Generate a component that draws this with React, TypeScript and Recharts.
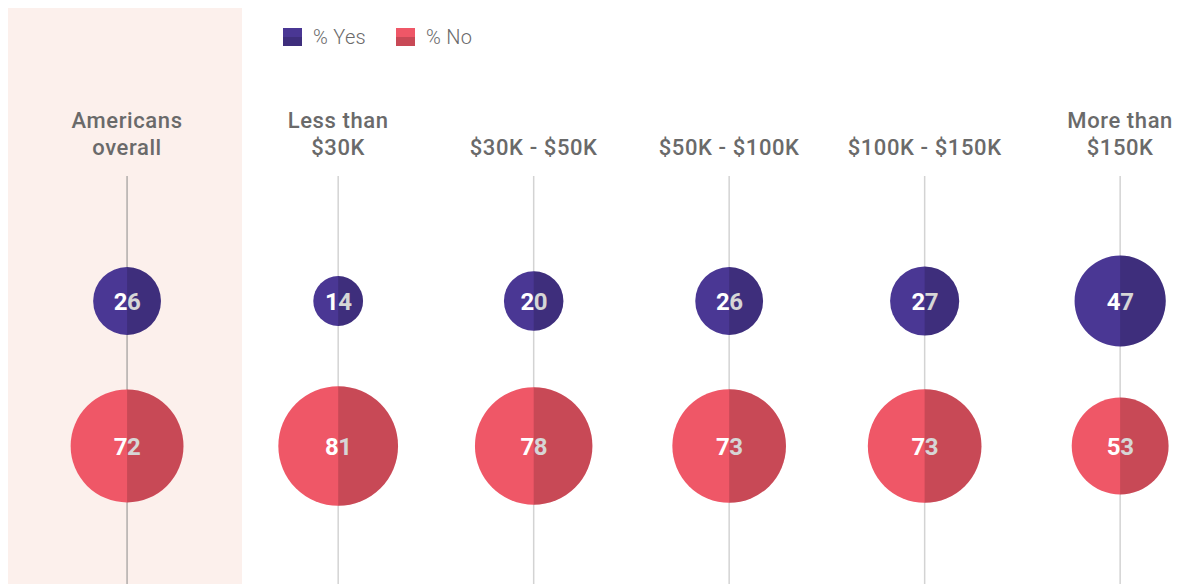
import { ScatterChart, Scatter, XAxis, YAxis, ZAxis, ReferenceArea, ReferenceLine } from 'recharts';

const categories = ['Americans overall', 'Less than $30K', '$30K - $50K', '$50K - $100K', '$100K - $150K', 'More than $150K'];
const categoryLines = [['Americans', 'overall'], ['Less than', '$30K'], ['$30K - $50K'], ['$50K - $100K'], ['$100K - $150K'], ['More than', '$150K']];
const yesValues = [26, 14, 20, 26, 27, 47];
const noValues = [72, 81, 78, 73, 73, 53];
const seriesNames = ['% Yes', '% No'];

const YES_COLOR = '#4a3794';
const NO_COLOR = '#ef5767';
const TEXT_GRAY = '#6a6a6a';

// first column stands apart a little from the income groups
const xPos = categories.map((_, i) => i + (i > 0 ? 0.08 : 0));
const X_DOMAIN: [number, number] = [-0.609, 5.422];
const Y_DOMAIN: [number, number] = [-0.952, 3.021];
const ROW_YES = 1;
const ROW_NO = 0;
const ROW_LABEL = 2.01;

const yesData = categories.map((c, i) => ({ name: c, x: xPos[i], y: ROW_YES, z: yesValues[i] }));
const noData = categories.map((c, i) => ({ name: c, x: xPos[i], y: ROW_NO, z: noValues[i] }));
const labelData = categories.map((c, i) => ({ name: c, x: xPos[i], y: ROW_LABEL, lines: categoryLines[i] }));

const Bubble = (props: any) => {
  const { cx, cy, width, fill, payload } = props;
  const r = width / 2;
  return (
    <g>
      <circle cx={cx} cy={cy} r={r} fill={fill} />
      <text
        x={cx}
        y={cy}
        dy="0.36em"
        textAnchor="middle"
        fill="#fff"
        style={{ fontFamily: 'Roboto', fontWeight: 700, fontSize: 24, letterSpacing: -0.5 }}
      >
        {payload.z}
      </text>
      {/* darker right half, laid over the number too */}
      <path d={`M${cx},${cy - r} A${r},${r} 0 0 1 ${cx},${cy + r} Z`} fill="#000" fillOpacity={0.16} />
    </g>
  );
};

const CategoryLabel = (props: any) => {
  const { cx, cy, payload } = props;
  const lines: string[] = payload.lines;
  return (
    <text
      x={cx}
      y={cy}
      textAnchor="middle"
      fill={TEXT_GRAY}
      style={{ fontFamily: 'Roboto', fontWeight: 500, fontSize: 22, letterSpacing: 0.6 }}
    >
      {lines.map((l, i) => (
        <tspan key={i} x={cx} y={cy - (lines.length - 1 - i) * 27}>
          {l}
        </tspan>
      ))}
    </text>
  );
};

const LegendBox = () => (
  <div
    style={{
      position: 'absolute',
      top: 17,
      left: 275,
      display: 'flex',
      alignItems: 'center',
      fontFamily: 'Roboto',
      fontWeight: 300,
      fontSize: 20,
      letterSpacing: 0.3,
      color: TEXT_GRAY,
    }}
  >
    {seriesNames.map((label, i) => (
      <div key={label} style={{ display: 'flex', alignItems: 'center', marginRight: 30 }}>
        <div style={{ width: 19, height: 18, background: i === 0 ? YES_COLOR : NO_COLOR, position: 'relative', marginRight: 11 }}>
          <div style={{ position: 'absolute', left: 0, right: 0, bottom: 0, height: 9, background: 'rgba(0,0,0,0.16)' }} />
        </div>
        <span>{label}</span>
      </div>
    ))}
  </div>
);

export default function App() {
  return (
    <div style={{ position: 'relative', width: 1179, height: 576 }}>
      <ScatterChart width={1179} height={576} margin={{ top: 0, right: 0, bottom: 0, left: 0 }}>
        <XAxis type="number" dataKey="x" domain={X_DOMAIN} hide allowDataOverflow />
        <YAxis type="number" dataKey="y" domain={Y_DOMAIN} hide allowDataOverflow />
        <ZAxis type="number" dataKey="z" domain={[0, 100]} range={[0, Math.PI * 6.65 * 6.65 * 100]} />
        <ReferenceArea x1={X_DOMAIN[0]} x2={0.588} y1={Y_DOMAIN[0]} y2={Y_DOMAIN[1]} fill="#fcf0ec" fillOpacity={1} stroke="none" />
        {xPos.map((x, i) => (
          <ReferenceLine
            key={i}
            segment={[{ x, y: 1.862 }, { x, y: Y_DOMAIN[0] }]}
            stroke={i === 0 ? '#8a8a8a' : '#d3d3d3'}
            strokeWidth={i === 0 ? 1 : 1.5}
          />
        ))}
        <Scatter name={seriesNames[0]} data={yesData} fill={YES_COLOR} shape={<Bubble />} isAnimationActive={false} />
        <Scatter name={seriesNames[1]} data={noData} fill={NO_COLOR} shape={<Bubble />} isAnimationActive={false} />
        <Scatter name="labels" data={labelData} fill="none" shape={<CategoryLabel />} legendType="none" isAnimationActive={false} />
      </ScatterChart>
      <LegendBox />
    </div>
  );
}
